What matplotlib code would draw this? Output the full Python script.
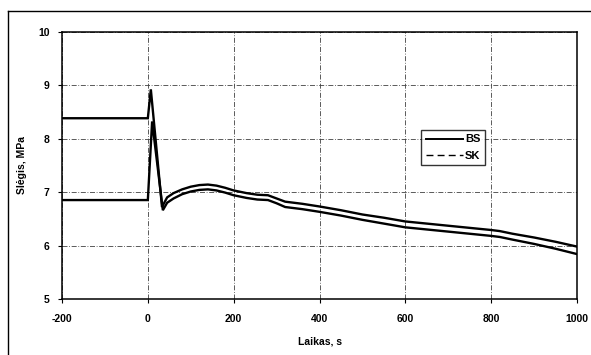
import matplotlib
matplotlib.use("Agg")
import matplotlib.pyplot as plt
from matplotlib.lines import Line2D

plt.rcParams['font.family'] = ['Liberation Sans', 'DejaVu Sans']

# BS series (solid)
bs_t = [-200, 0, 7, 33, 45, 60, 80, 100, 120, 140, 160, 180, 200, 230, 255, 280, 300,
        320, 360, 400, 450, 500, 550, 600, 650, 700, 750, 800, 820, 850, 900, 950, 1000]
bs_p = [8.38, 8.38, 8.92, 6.72, 6.90, 6.98, 7.05, 7.10, 7.13, 7.14, 7.12, 7.08, 7.03, 6.98,
        6.95, 6.94, 6.88, 6.82, 6.78, 6.73, 6.66, 6.58, 6.52, 6.45, 6.41, 6.37, 6.33, 6.29,
        6.27, 6.22, 6.15, 6.07, 5.98]

# SK series (dashed in legend)
sk_t = [-200, 0, 10, 35, 45, 60, 80, 100, 120, 140, 160, 180, 200, 230, 255, 280, 300,
        320, 360, 400, 450, 500, 550, 600, 650, 700, 750, 800, 820, 850, 900, 950, 1000]
sk_p = [6.85, 6.85, 8.32, 6.66, 6.80, 6.88, 6.96, 7.01, 7.04, 7.05, 7.03, 6.99, 6.94, 6.89,
        6.86, 6.85, 6.79, 6.72, 6.68, 6.63, 6.56, 6.48, 6.41, 6.34, 6.30, 6.26, 6.22, 6.18,
        6.16, 6.11, 6.03, 5.94, 5.84]

x_ticks = [-200, 0, 200, 400, 600, 800, 1000]
y_ticks = [5, 6, 7, 8, 9, 10]
series_names = ["BS", "SK"]

fig = plt.figure(figsize=(5.91, 3.55), dpi=100)
ax = fig.add_axes([62/591, 1 - 299/355, (577-62)/591, (299-31.6)/355])

ax.plot(bs_t, bs_p, color='black', lw=1.7, solid_joinstyle='miter')
ax.plot(sk_t, sk_p, color='black', lw=1.7, solid_joinstyle='miter')

ax.set_xlim(-200, 1000)
ax.set_ylim(5, 10)
ax.set_xticks(x_ticks)
ax.set_yticks(y_ticks)
ax.set_xticklabels([str(v) for v in x_ticks], fontsize=7.5, fontweight='bold')
ax.set_yticklabels([str(v) for v in y_ticks], fontsize=7.5, fontweight='bold')
ax.tick_params(axis='x', direction='out', length=3, width=0.8, color='black', pad=8)
ax.tick_params(axis='y', direction='out', length=3, width=0.8, color='black', pad=6)
ax.grid(True, color='0.25', lw=0.6, linestyle=(0, (6, 2, 1, 2)))
for s in ax.spines.values():
    s.set_linewidth(1.1)
    s.set_color('black')

ax.set_xlabel("Laikas, s", fontsize=7.5, fontweight='bold', labelpad=9)
ax.set_ylabel("Slėgis, MPa", fontsize=7.5, fontweight='bold', labelpad=8)

handles = [Line2D([], [], color='black', lw=1.4, linestyle='-'),
           Line2D([], [], color='black', lw=1.0, linestyle=(0, (5, 3)))]
leg = ax.legend(handles, series_names, loc='upper left', bbox_to_anchor=(0.698, 0.632),
                prop={'weight': 'bold', 'size': 8}, frameon=True, fancybox=False,
                handlelength=3.3, handletextpad=0.2, borderpad=0.4, labelspacing=0.55,
                borderaxespad=0)
leg.get_frame().set_edgecolor('black')
leg.get_frame().set_linewidth(1.0)

# outer frame (top and left edges)
fig.add_artist(Line2D([8/591, 1.0], [1 - 10.5/355, 1 - 10.5/355], transform=fig.transFigure,
                      color='black', lw=1.0))
fig.add_artist(Line2D([8/591, 8/591], [0.0, 1 - 10.5/355], transform=fig.transFigure,
                      color='black', lw=1.0))

fig.savefig("out.png", dpi=100)
